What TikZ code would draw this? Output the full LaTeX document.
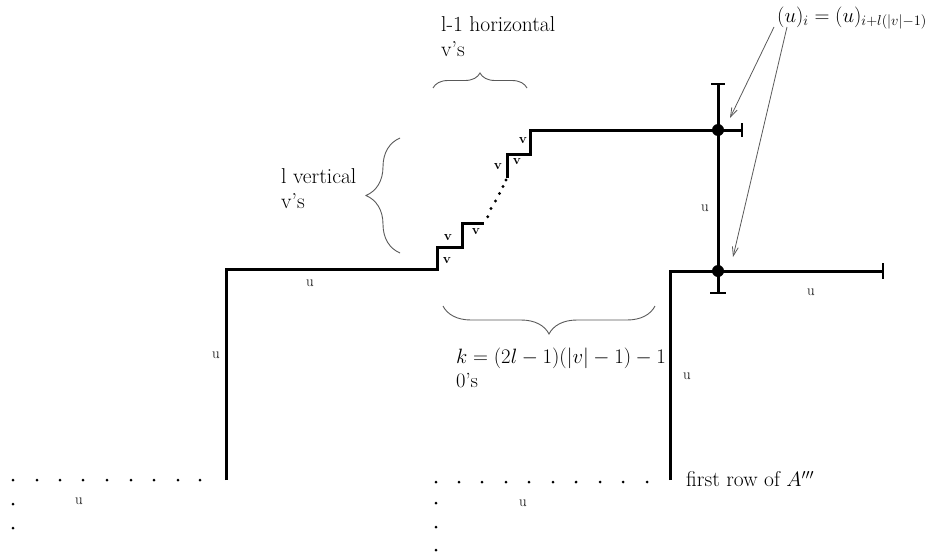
\documentclass[tikz,border=0pt]{standalone}
\usetikzlibrary{decorations.pathreplacing,arrows.meta}
\begin{document}
\begin{tikzpicture}[x=1pt,y=-1pt,
  thickline/.style={line width=3pt,line join=miter},
  tickline/.style={line width=1.6pt},
  bracestyle/.style={draw=black!65,line width=0.9pt,decorate},
  pointer/.style={draw=black!65,line width=0.8pt,-{Straight Barb[length=9pt,width=6pt]}},
  bigtext/.style={font=\fontsize{21.5}{25}\selectfont,inner sep=0pt,align=left},
  smalllab/.style={font=\fontsize{15}{17}\selectfont,inner sep=0pt},
  vlab/.style={font=\fontsize{13.5}{15}\selectfont\bfseries,inner sep=0pt},
  bigdot/.style={fill=black,circle,inner sep=0pt,minimum size=12pt}]
\useasboundingbox (0,0) rectangle (932,557);

% main staircase path
\draw[thickline] (226,480) -- (226,269) -- (437,269) -- (437,247) -- (462,247) -- (462,223) -- (484,223);
\draw[thickline] (507,178) -- (507,154) -- (530,154) -- (530,130) -- (742,130);
\foreach \p in {(487.7,216.7),(491,208.5),(495.5,201),(499.5,193.5),(503,186.5),(506,180)}
  \fill \p circle (1.6pt);

% right structure
\draw[thickline] (718,84) -- (718,293);
\draw[thickline] (670,480) -- (670,271) -- (883,271);
\draw[tickline] (711,84) -- (725,84);
\draw[tickline] (710,293) -- (726,293);
\draw[tickline] (742,123) -- (742,137);
\draw[tickline] (883,263) -- (883,279);
\node[bigdot] (d1) at (718,130) {};
\node[bigdot] (d2) at (718,271) {};

% braces
\draw[bracestyle,decoration={brace,amplitude=15pt}] (433,88) -- (527,88);
\draw[bracestyle,decoration={brace,amplitude=34pt}] (400,253) -- (400,138);
\draw[bracestyle,decoration={brace,amplitude=28pt}] (655,306) -- (443,306);

% texts
\node[bigtext,anchor=west] (th) at (441,37) {l-1 horizontal\\v's};
\node[bigtext,anchor=west] (tv) at (281,189) {l vertical\\v's};
\node[bigtext,anchor=west,font=\fontsize{20.5}{24}\selectfont] (tk) at (456,368) {$k=(2l-1)(|v|-1)-1$\\0's};
\node[bigtext,anchor=west] (tf) at (686,479) {first row of $A'''$};
\node[bigtext,anchor=west,font=\fontsize{22.5}{26}\selectfont] (tu) at (777,18) {$(u)_i=(u)_{i+l(|v|-1)}$};

% pointers
\coordinate (p1s) at (774,27);
\coordinate (p2s) at (787,27);
\coordinate (p1e) at (730,118);
\coordinate (p2e) at (733,257);
\draw[pointer] (p1s) -- (p1e);
\draw[pointer] (p2s) -- (p2e);

% u labels
\node[smalllab] (u1) at (310,283) {u};
\node[smalllab] (u2) at (216,355) {u};
\node[smalllab] (u3) at (705,208) {u};
\node[smalllab] (u4) at (811,292) {u};
\node[smalllab] (u5) at (687,376) {u};
\node[smalllab] (u6) at (79,501) {u};
\node[smalllab] (u7) at (523,503) {u};

% v labels
\node[vlab] (v1) at (447,261) {v};
\node[vlab] (v2) at (448,238) {v};
\node[vlab] (v3) at (476,232) {v};
\node[vlab] (v4) at (498,167) {v};
\node[vlab] (v5) at (517,162) {v};
\node[vlab] (v6) at (523,141) {v};

% dotted rows/columns
\foreach \x in {13,37,60,83,107,131,154,178,200} \fill (\x,480) circle (1.5pt);
\foreach \y in {504,528} \fill (13,\y) circle (1.5pt);
\foreach \x in {436,459,482,506,529,553,576,600,623,647} \fill (\x,482) circle (1.5pt);
\foreach \y in {503,527,550} \fill (436,\y) circle (1.5pt);
\end{tikzpicture}
\end{document}
